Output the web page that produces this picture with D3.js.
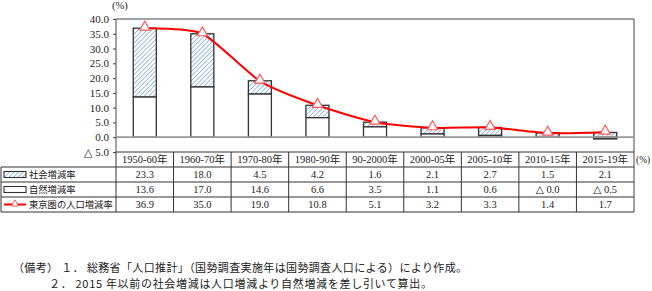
<!DOCTYPE html>
<html><head><meta charset="utf-8">
<script src="https://cdn.jsdelivr.net/npm/d3@7"></script>
<style>
body{margin:0;background:#fff;}
svg text{fill:#222;}
</style></head>
<body>
<svg id="c" width="652" height="291"></svg>
<script>
const categories = ["1950-60年","1960-70年","1970-80年","1980-90年","90-2000年","2000-05年","2005-10年","2010-15年","2015-19年"];
const socialRate = [23.3, 18.0, 4.5, 4.2, 1.6, 2.1, 2.7, 1.5, 2.1];
const naturalRate = [13.6, 17.0, 14.6, 6.6, 3.5, 1.1, 0.6, -0.0, -0.5];
const totalRate = [36.9, 35.0, 19.0, 10.8, 5.1, 3.2, 3.3, 1.4, 1.7];
const socialLabels = ["23.3","18.0","4.5","4.2","1.6","2.1","2.7","1.5","2.1"];
const naturalLabels = ["13.6","17.0","14.6","6.6","3.5","1.1","0.6","△ 0.0","△ 0.5"];
const totalLabels = ["36.9","35.0","19.0","10.8","5.1","3.2","3.3","1.4","1.7"];
const yTicks = [-5, 0, 5, 10, 15, 20, 25, 30, 35, 40];
const seriesNames = ["社会増減率","自然増減率","東京圏の人口増減率"];
const notes = ["（備考） １． 総務省「人口推計」（国勢調査実施年は国勢調査人口による）により作成。",
               "２． 2015 年以前の社会増減は人口増減より自然増減を差し引いて算出。"];

const SERIF = '"Liberation Serif","DejaVu Serif","Noto Sans CJK JP",serif';
const JP = '"Noto Sans CJK JP",sans-serif';
const svg = d3.select("#c");
const L = 116, R = 634, T = 19, B = 152;
const rowY = [152, 167, 182, 197, 212];
const x = d3.scaleBand().domain(categories).range([L, R]).paddingInner(0.6).paddingOuter(0.3);
const xc = d3.scaleBand().domain(categories).range([L, R]).padding(0);
const y = d3.scaleLinear().domain([-5, 40]).range([B, T]);

const defs = svg.append("defs");
const pat = defs.append("pattern").attr("id","hatch").attr("patternUnits","userSpaceOnUse")
  .attr("width",3.2).attr("height",3.2).attr("patternTransform","rotate(45)");
pat.append("rect").attr("width",3.2).attr("height",3.2).attr("fill","#fff");
pat.append("line").attr("x1",0).attr("y1",0).attr("x2",0).attr("y2",3.2)
  .attr("stroke","#6a9fd8").attr("stroke-width",1.3);

// y axis
const yAxis = d3.axisLeft(y).tickValues(yTicks).tickSize(3).tickPadding(4)
  .tickFormat(d => d < 0 ? "△ " + Math.abs(d).toFixed(1) : d.toFixed(1));
const ga = svg.append("g").attr("transform", `translate(${L},0)`).call(yAxis);
ga.attr("font-family", null);
ga.select(".domain").remove();
ga.selectAll("line").attr("stroke","#444");
ga.selectAll("text").style("font-size","11px").style("font-family", SERIF).attr("fill","#333");
svg.append("text").attr("x",112).attr("y",9).style("font-family",SERIF).style("font-size","10.5px").text("(%)");

// frame
svg.append("path").attr("d",`M${L},${B}V${T}H${R}V${rowY[4]}`).attr("fill","none").attr("stroke","#444").attr("stroke-width",1);

// bars
const bars = svg.append("g");
categories.forEach((c,i) => {
  const n = naturalRate[i], s = socialRate[i];
  const s0 = n, s1 = n + s;
  bars.append("rect").attr("x", x(c)).attr("width", x.bandwidth())
    .attr("y", y(Math.max(s0, s1))).attr("height", Math.abs(y(s0) - y(s1)))
    .attr("fill","url(#hatch)").attr("stroke","#333").attr("stroke-width",1.3);
  bars.append("rect").attr("x", x(c)).attr("width", x.bandwidth())
    .attr("y", y(Math.max(0, n))).attr("height", Math.abs(y(0) - y(n)))
    .attr("fill","#fff").attr("stroke","#333").attr("stroke-width",1.3);
});

// zero line
svg.append("line").attr("x1",L).attr("x2",R).attr("y1",y(0)).attr("y2",y(0))
  .attr("stroke","#999").attr("stroke-width",1.8);

// line
const cx = c => x(c) + x.bandwidth()/2;
const line = d3.line().x((d,i) => cx(categories[i])).y(d => y(d)).curve(d3.curveCardinal.tension(0.35));
svg.append("path").datum(totalRate).attr("d", line).attr("fill","none").attr("stroke","#f00").attr("stroke-width",2);
const tri = d3.symbol().type(d3.symbolTriangle).size(46);
svg.append("g").selectAll("path").data(totalRate).join("path")
  .attr("d", tri).attr("transform",(d,i)=>`translate(${cx(categories[i])},${y(d)-1})`)
  .attr("fill","#fff").attr("stroke","#ff5a5a").attr("stroke-width",1.2);

// table
const tg = svg.append("g");
tg.append("line").attr("x1",L).attr("x2",R).attr("y1",rowY[0]).attr("y2",rowY[0]).attr("stroke","#333");
for (let r = 1; r < 5; r++) {
  tg.append("line").attr("x1",1).attr("x2",R).attr("y1",rowY[r]).attr("y2",rowY[r]).attr("stroke","#333");
}
tg.append("line").attr("x1",1).attr("x2",1).attr("y1",rowY[1]).attr("y2",rowY[4]).attr("stroke","#333");
categories.forEach(c => {
  tg.append("line").attr("x1",xc(c)).attr("x2",xc(c)).attr("y1",rowY[0]).attr("y2",rowY[4]).attr("stroke","#333");
});
const rows = [socialLabels, naturalLabels, totalLabels];
categories.forEach((c,i) => {
  const mx = xc(c) + xc.bandwidth()/2;
  tg.append("text").attr("x",mx).attr("y",(rowY[0]+rowY[1])/2).attr("dy","0.35em")
    .attr("text-anchor","middle").style("font-family",SERIF).style("font-size","10.5px").text(c);
  rows.forEach((arr,r) => {
    tg.append("text").attr("x",mx).attr("y",(rowY[r+1]+rowY[r+2])/2).attr("dy","0.35em")
      .attr("text-anchor","middle").style("font-family",SERIF).style("font-size","10.5px").text(arr[i]);
  });
});
svg.append("text").attr("x",636).attr("y",(rowY[0]+rowY[1])/2).attr("dy","0.35em").style("font-family",SERIF).style("font-size","9.5px").text("(%)");

// legend column
const ly = r => (rowY[r+1]+rowY[r+2])/2;
tg.append("rect").attr("x",4).attr("y",ly(0)-3).attr("width",22).attr("height",6).attr("fill","url(#hatch)").attr("stroke","#333").attr("stroke-width",1.1);
tg.append("rect").attr("x",4).attr("y",ly(1)-3).attr("width",22).attr("height",6).attr("fill","#fff").attr("stroke","#333").attr("stroke-width",1.1);
tg.append("line").attr("x1",4).attr("x2",26).attr("y1",ly(2)).attr("y2",ly(2)).attr("stroke","#f00").attr("stroke-width",2);
tg.append("path").attr("d", d3.symbol().type(d3.symbolTriangle).size(22)).attr("transform",`translate(15,${ly(2)-0.5})`)
  .attr("fill","#fff").attr("stroke","#ff5a5a").attr("stroke-width",1);
seriesNames.forEach((nm,r) => {
  tg.append("text").attr("x",29).attr("y",ly(r)).attr("dy","0.35em").style("font-family",JP).style("font-size","9.3px").text(nm);
});

// notes
svg.append("text").attr("x",13).attr("y",268).attr("dy","0.35em").style("font-family",JP).style("font-size","11px")
  .attr("textLength",454).attr("lengthAdjust","spacing").text(notes[0]);
svg.append("text").attr("x",49).attr("y",284).attr("dy","0.35em").style("font-family",JP).style("font-size","11px")
  .attr("textLength",383).attr("lengthAdjust","spacing").text(notes[1]);
</script>
</body></html>
